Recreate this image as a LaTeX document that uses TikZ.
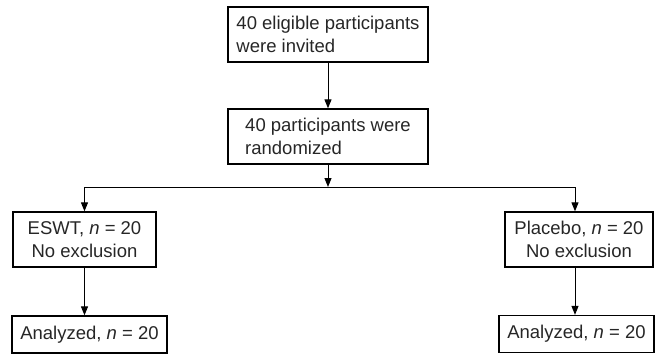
\documentclass[tikz,border=0pt]{standalone}
\usepackage{fontspec}
\setmainfont{Liberation Sans}
\usetikzlibrary{arrows.meta}
\begin{document}
\begin{tikzpicture}[->,>={Triangle[length=9pt,width=7pt]}, line width=1pt,
    every node/.style={draw,line width=1.3pt,minimum height=55pt,inner sep=0pt,
      font=\fontsize{18.5}{23}\selectfont,text=black!85},
    topbox/.style={minimum width=200pt,align=left},
    armbox/.style={align=center},
    endbox/.style={minimum height=37pt,minimum width=155pt,align=center}]
      \useasboundingbox (-328pt,34.5pt) rectangle (333pt,-321.5pt);
      % Enrolment
      \node[topbox] (invited) {40 eligible participants\\were invited};
      \node[topbox,below of=invited,node distance=102pt] (randomized) {40 participants were\\randomized};
      \coordinate[below of=randomized,node distance=50.5pt] (split);

      % Arms
      \node[armbox,minimum width=143pt,below of=randomized,node distance=103pt,xshift=-243.5pt] (eswt) {ESWT, \textit{n} = 20\\No exclusion};
      \node[armbox,minimum width=148pt,right of=eswt,node distance=494.5pt] (placebo) {Placebo, \textit{n} = 20\\No exclusion};

      % Analysis
      \node[endbox,below of=eswt,node distance=95pt,xshift=5pt] (analyzedL) {Analyzed, \textit{n} = 20};
      \node[endbox,below of=placebo,node distance=94.5pt,xshift=-2.5pt] (analyzedR) {Analyzed, \textit{n} = 20};

      % Edges
      \draw (invited) -- (randomized);
      \draw (randomized) -- (split);
      \draw[-] (split -| eswt) -- ([xshift=-4pt]split -| placebo);
      \draw (split -| eswt) -- (eswt);
      \draw ([xshift=-4pt]split -| placebo) -- ([xshift=-4pt]placebo.north);
      \draw (eswt.south) -- (eswt.south |- analyzedL.north);
      \draw ([xshift=-4pt]placebo.south) -- ([xshift=-4pt]placebo.south |- analyzedR.north);
    \end{tikzpicture}
\end{document}
